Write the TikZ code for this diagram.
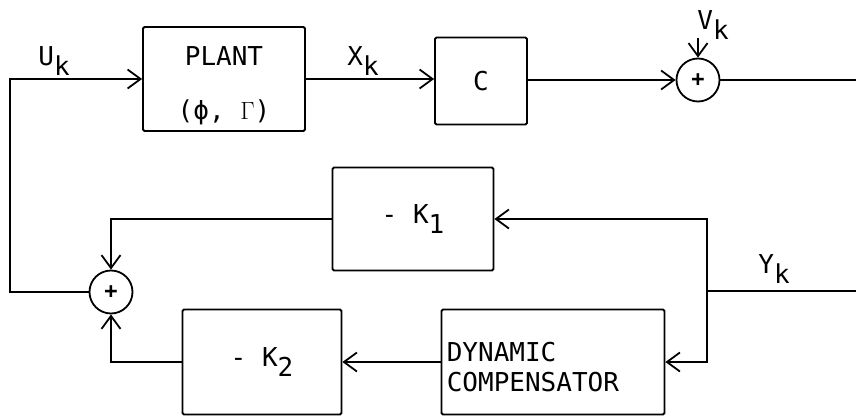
\documentclass[tikz,border=0pt]{standalone}
\usepackage{fontspec}
\setmainfont{DejaVu Sans Mono}
\usetikzlibrary{arrows.meta}
\newcommand{\sbk}[1]{\raisebox{-0.42em}{#1}}
\newcommand{\tallfont}{\fontsize{26}{30}\selectfont}
\tikzset{
  blk/.style={draw, line width=1.8pt, rounded corners=1.5pt, inner sep=0pt, font=\tallfont},
  sumc/.style={draw, circle, line width=1.8pt, minimum size=43pt, inner sep=0pt, font=\fontsize{22}{24}\selectfont\bfseries},
  lbl/.style={inner sep=0pt, font=\tallfont},
  wire/.style={line width=1.8pt},
  arr/.style={wire, -{Straight Barb[length=13pt,width=19pt,line width=1.8pt]}}
}
\begin{document}
\begin{tikzpicture}[x=1pt,y=-1pt]
\useasboundingbox (0,0) rectangle (856,417);
% blocks
\node[blk, minimum width=162pt, minimum height=104pt] (plant) at (224,79) {};
\node[lbl, align=center] (plantt) at ([yshift=-7pt]plant.center) {PLANT\\[24pt](ϕ, $\Gamma$)};
\node[blk, minimum width=92pt, minimum height=87pt] (C) at (481,81) {C};
\node[sumc] (s1) at (698,80) {+};
\node[blk, minimum width=161pt, minimum height=103pt] (K1) at (413,219) {- K\sbk{1}};
\node[blk, minimum width=159pt, minimum height=105pt] (K2) at (262,362) {- K\sbk{2}};
\node[blk, minimum width=223pt, minimum height=105pt] (DC) at (553,362) {};
\node[lbl, align=left, anchor=west] (dct) at ([xshift=6pt, yshift=-5pt]DC.west) {DYNAMIC\\COMPENSATOR};
\node[sumc] (s2) at (111,292) {+};
% labels
\node[lbl] (uk) at (54,61) {U\sbk{k}};
\node[lbl] (xk) at (363,61) {X\sbk{k}};
\node[lbl] (vk) at (713,25) {V\sbk{k}};
\node[lbl] (yk) at (774,269) {Y\sbk{k}};
% coordinates
\coordinate (tl) at (10,79);
\coordinate (out) at (856,80);
\coordinate (vin) at (698,38);
\coordinate (yin) at (856,291);
\coordinate (yj) at (707,291);
% connectors
\draw[arr] (s2.west) -| (tl) -- (plant.west);
\draw[arr] (plant.east) -- (plant.east -| C.west);
\draw[arr] (C.east |- s1.west) -- (s1.west);
\draw[wire] (s1.east) -- (out);
\draw[arr] (vin) -- (s1.north);
\draw[wire] (yin) -- (yj);
\draw[arr] (yj) |- (K1.east);
\draw[arr] (yj) |- (DC.east);
\draw[arr] (DC.west) -- (K2.east);
\draw[arr] (K1.west) -| (s2.north);
\draw[arr] (K2.west) -| (s2.south);
\end{tikzpicture}
\end{document}
